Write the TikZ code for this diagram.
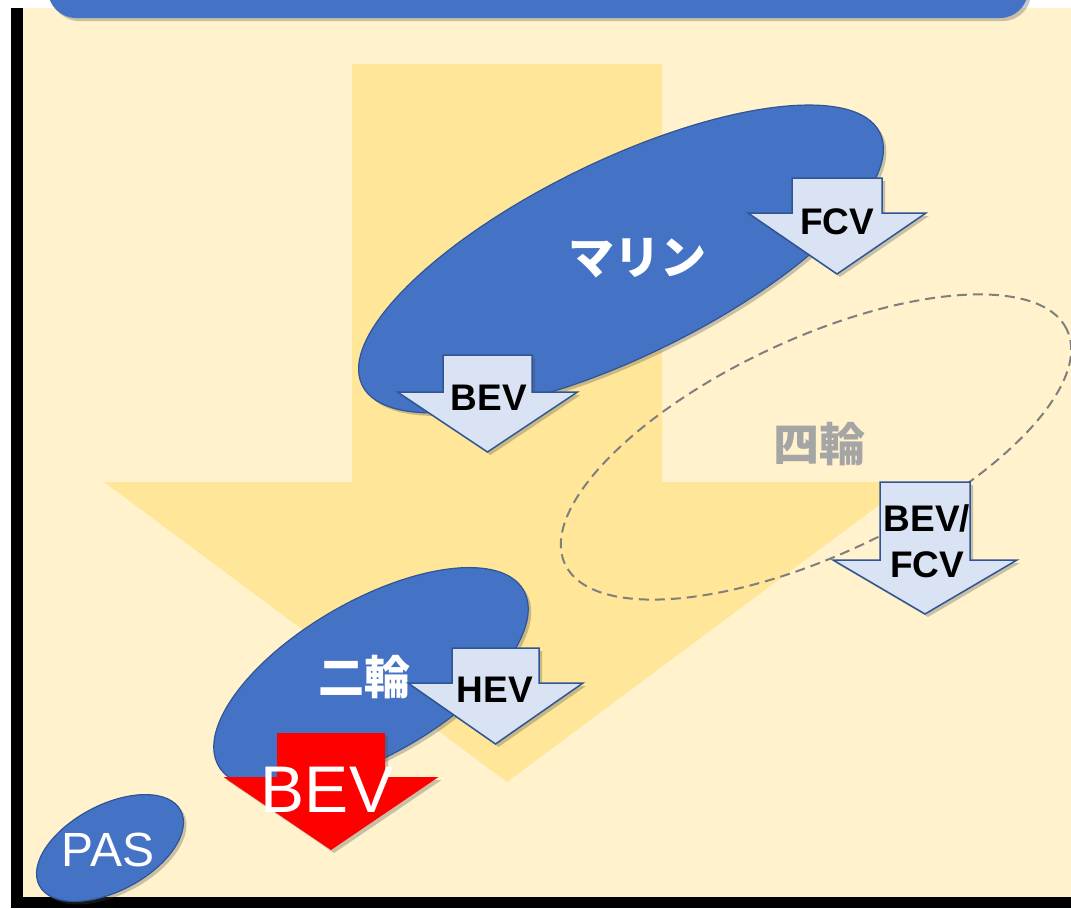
\documentclass[tikz,border=0pt]{standalone}
\usepackage{fontspec}
\setmainfont{Liberation Sans}
\newfontfamily\jp{Noto Sans CJK JP}
\usetikzlibrary{shapes.geometric,shadows}
\definecolor{bgyellow}{HTML}{FFF2CC}
\definecolor{bigarrow}{HTML}{FFE699}
\definecolor{mblue}{HTML}{4472C4}
\definecolor{dblue}{HTML}{2F5597}
\definecolor{lblue}{HTML}{DAE3F3}
\definecolor{dgray}{HTML}{7F7F7F}
\definecolor{tgray}{HTML}{A5A5A5}
\newcommand\dnarrow[7]{%
  \path[#7] (#1-#3,#2) -- (#1+#3,#2) -- (#1+#3,#4) -- (#1+#5,#4) -- (#1,#6) -- (#1-#5,#4) -- (#1-#3,#4) -- cycle;}
\tikzset{
  shd/.style={drop shadow={shadow xshift=3pt,shadow yshift=-3pt,opacity=0.3,fill=black!70}},
  blob/.style={ellipse,draw=dblue,line width=1.2pt,fill=mblue,inner sep=0pt,shd},
  larrow/.style={draw=dblue,line width=1.5pt,fill=lblue,line join=miter,shd},
  rarrow/.style={fill=red,shd},
  ltext/.style={font=\bfseries\fontsize{37}{40}\selectfont,text=black,inner sep=0pt},
  jtext/.style={font=\jp\bfseries\fontsize{46}{50}\selectfont,text=white,inner sep=0pt},
}
\begin{document}
\begin{tikzpicture}[x=1pt,y=-1pt]
\useasboundingbox (0,0) rectangle (1071,908);
\begin{scope}
\clip (0,0) rectangle (1071,908);
\fill[white] (0,0) rectangle (1071,908);
\fill[bgyellow] (18,8) rectangle (1071,898);
\fill[black] (11,8) rectangle (23,908);
\fill[black] (11,897) rectangle (1071,908);
% top banner
\path[fill=mblue,rounded corners=28pt,shd] (48,-60) rectangle (1028,18);
% big background arrow
\dnarrow{507}{64}{155}{482}{403}{782}{fill=bigarrow}
% marine
\node[blob,minimum width=576pt,minimum height=196pt,rotate=26] (marine) at (621,259) {};
\node[jtext] (marineT) at (637,258) {マリン};
\dnarrow{837}{178}{45}{213}{89}{274}{larrow}
\node[ltext] (fcv1) at (837,222) {FCV};
\dnarrow{487.5}{355}{44.5}{392}{90}{452}{larrow}
\node[ltext] (bev1) at (489,398) {BEV};
% four-wheel
\node[ellipse,draw=dgray,line width=2pt,dash pattern=on 10pt off 6pt,minimum width=554pt,minimum height=216pt,rotate=25,inner sep=0pt] (four) at (816,447) {};
\node[jtext,text=tgray] (fourT) at (819,444) {四輪};
\dnarrow{925}{482}{45}{560}{92}{614}{larrow}
\node[ltext,align=center,font=\bfseries\fontsize{37}{46}\selectfont] (bevfcv) at (927,541) {BEV/\\FCV};
% two-wheel
\node[blob,minimum width=352pt,minimum height=154pt,rotate=30] (two) at (371,678) {};
\node[jtext] (twoT) at (364,677) {二輪};
\dnarrow{495.5}{648}{43.5}{683}{87.5}{744}{larrow}
\node[ltext] (hev) at (495,690) {HEV};
\dnarrow{331}{733}{54}{777}{107.5}{850}{rarrow}
\node[font=\fontsize{66}{70}\selectfont,text=white,inner sep=0pt] (bevred) at (327,790) {BEV};
% PAS
\node[blob,minimum width=160pt,minimum height=86pt,rotate=28] (pas) at (110,848) {};
\node[font=\fontsize{48}{52}\selectfont,text=white,inner sep=0pt] (pasT) at (108,850) {PAS};
\end{scope}
\end{tikzpicture}
\end{document}
